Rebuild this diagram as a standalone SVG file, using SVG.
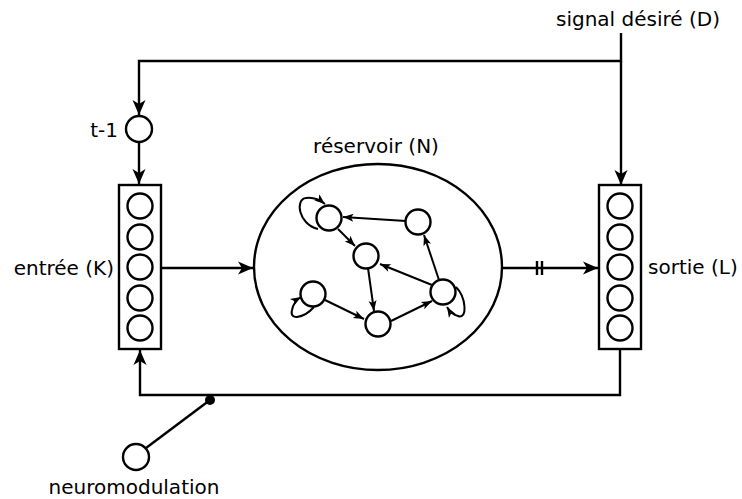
<svg xmlns="http://www.w3.org/2000/svg" width="742" height="499" viewBox="0 0 742 499">
<style>
.t{font-family:"DejaVu Sans","Liberation Sans",sans-serif;font-size:20px;fill:#000}
.ln{fill:none;stroke:#000;stroke-width:2.4}
.sm{fill:none;stroke:#000;stroke-width:2}
.nd{fill:#fff;stroke:#000;stroke-width:2.4}
.box{fill:#fff;stroke:#000;stroke-width:2.4}
</style>
<defs>
<marker id="ar" markerUnits="userSpaceOnUse" markerWidth="18" markerHeight="16" refX="16" refY="8" orient="auto" viewBox="0 0 18 16">
<path d="M16,8 L1,1.5 L5,8 L1,14.5 Z" fill="#000"/>
</marker>
<marker id="as" markerUnits="userSpaceOnUse" markerWidth="12" markerHeight="10" refX="11" refY="5" orient="auto" viewBox="0 0 12 10">
<path d="M11,5 L0.5,1 L3,5 L0.5,9 Z" fill="#000"/>
</marker>
</defs>
<g id="connectors">
<path class="ln" d="M621,33 V61 H139 V115" marker-end="url(#ar)"/>
<path class="ln" d="M621,61 V185" marker-end="url(#ar)"/>
<path class="ln" d="M139,143 V184" marker-end="url(#ar)"/>
<path class="ln" d="M161,268 H253" marker-end="url(#ar)"/>
<path class="ln" d="M502,268 H598" marker-end="url(#ar)"/>
<path class="ln" d="M537,261 V275 M542,261 V275"/>
<path class="ln" d="M620,349 V395 H140 V350" marker-end="url(#ar)"/>
<path class="ln" d="M210,400 L146,448"/>
<circle cx="210" cy="400" r="5" fill="#000"/>
</g>
<g id="reservoir">
<ellipse cx="378" cy="267" rx="124" ry="103" class="ln"/>
<g id="res-edges">
<path class="sm" d="M406,221 L343,217" marker-end="url(#as)"/>
<path class="sm" d="M338,229 L355,246" marker-end="url(#as)"/>
<path class="sm" d="M432,285 L380,264" marker-end="url(#as)"/>
<path class="sm" d="M368,268 L374,311" marker-end="url(#as)"/>
<path class="sm" d="M325,300 L364,319" marker-end="url(#as)"/>
<path class="sm" d="M391,321 L432,301" marker-end="url(#as)"/>
<path class="sm" d="M439,280 L424,235" marker-end="url(#as)"/>
<path class="sm" d="M318,229 C298,224 295,199 306,198 C313,197 320,200 325,204" marker-end="url(#as)"/>
<path class="sm" d="M314,307 C304,318 289,321 292,310 C293,304 296,300 301,297" marker-end="url(#as)"/>
<path class="sm" d="M456,287 C466,297 468,320 458,316 C454,315 450,312 447,307" marker-end="url(#as)"/>
</g>
<circle class="nd" cx="329" cy="218" r="12.5"/>
<circle class="nd" cx="418" cy="222" r="12.5"/>
<circle class="nd" cx="366" cy="256" r="12.5"/>
<circle class="nd" cx="313" cy="294" r="12.5"/>
<circle class="nd" cx="378" cy="324" r="12.5"/>
<circle class="nd" cx="443" cy="292" r="12.5"/>
</g>
<g id="input">
<rect class="box" x="119" y="185" width="42" height="164"/>
<circle class="nd" cx="140" cy="206" r="12.5"/>
<circle class="nd" cx="140" cy="237" r="12.5"/>
<circle class="nd" cx="140" cy="267" r="12.5"/>
<circle class="nd" cx="140" cy="298" r="12.5"/>
<circle class="nd" cx="140" cy="328" r="12.5"/>
</g>
<g id="output">
<rect class="box" x="599" y="185" width="42" height="164"/>
<circle class="nd" cx="620" cy="206" r="12.5"/>
<circle class="nd" cx="620" cy="237" r="12.5"/>
<circle class="nd" cx="620" cy="267" r="12.5"/>
<circle class="nd" cx="620" cy="298" r="12.5"/>
<circle class="nd" cx="620" cy="328" r="12.5"/>
</g>
<g id="delay"><circle class="nd" cx="139" cy="129" r="13"/></g>
<g id="neuromod"><circle class="nd" cx="136" cy="457" r="13"/></g>
<g id="labels">
<text class="t" x="638" y="26" text-anchor="middle">signal désiré (D)</text>
<text class="t" x="118" y="137" text-anchor="end">t-1</text>
<text class="t" x="376" y="153" text-anchor="middle">réservoir (N)</text>
<text class="t" x="114" y="275" text-anchor="end">entrée (K)</text>
<text class="t" x="648" y="274">sortie (L)</text>
<text class="t" x="134" y="494" text-anchor="middle">neuromodulation</text>
</g>
</svg>
